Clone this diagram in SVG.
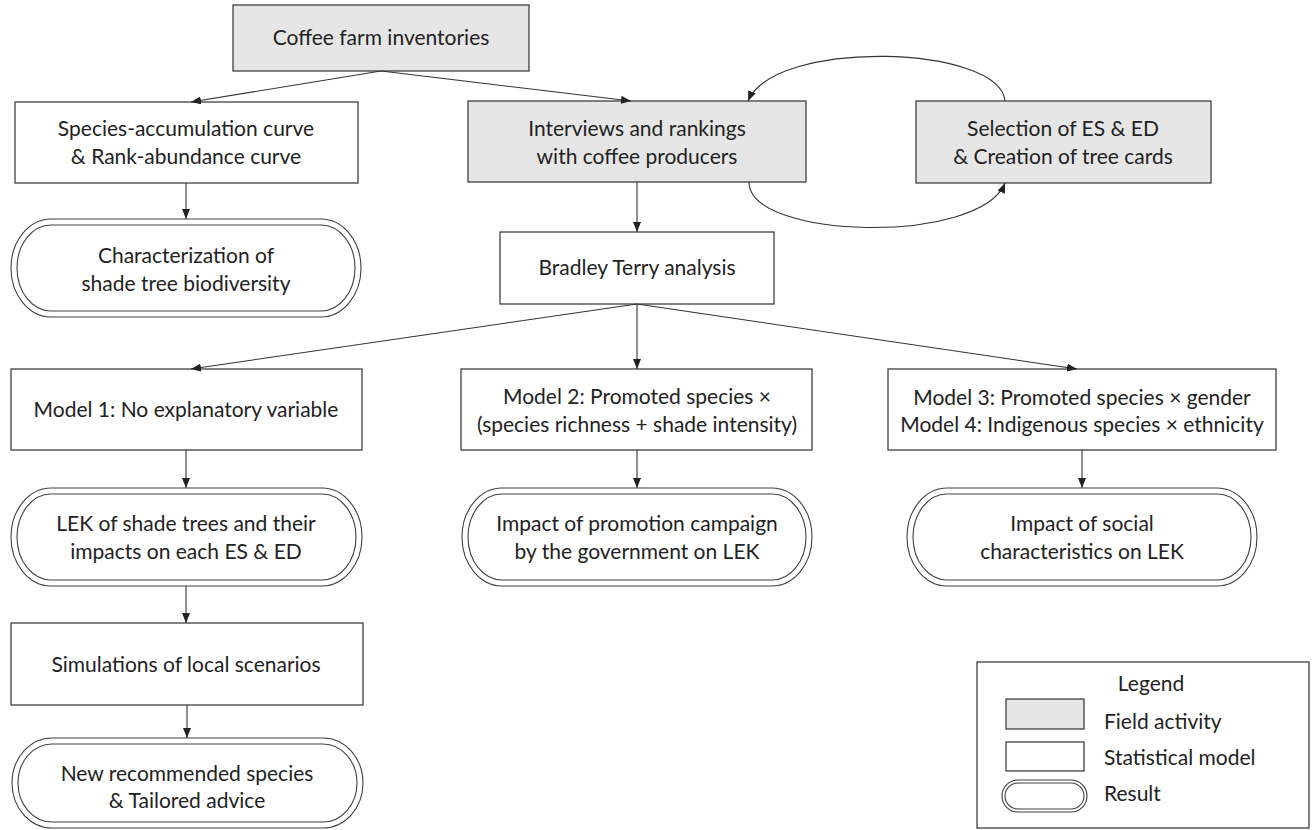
<svg xmlns="http://www.w3.org/2000/svg" width="1312" height="830" viewBox="0 0 1312 830">
<defs>
<marker id="ah" viewBox="0 0 10 8" refX="10" refY="4" markerWidth="10" markerHeight="8" markerUnits="userSpaceOnUse" orient="auto">
<path d="M0,0 L10,4 L0,8 Z" fill="#222"/>
</marker>
</defs>
<style>
.field{fill:#e6e6e6;stroke:#404040;stroke-width:1.3}
.model{fill:#fff;stroke:#404040;stroke-width:1.3}
.res{fill:#fff;stroke:#404040;stroke-width:1.1}
.resi{fill:none;stroke:#404040;stroke-width:1.1}
text{font-family:Lato,"Liberation Sans",sans-serif;font-size:21px;fill:#222;text-anchor:middle}
.lg{text-anchor:start}
.con path,.con line{fill:none;stroke:#333;stroke-width:1.1;marker-end:url(#ah)}
</style>
<rect width="1312" height="830" fill="#fff"/>

<g id="coffee">
<rect class="field" x="233" y="5" width="296" height="66"/>
<text x="381" y="45">Coffee farm inventories</text>
</g>
<g id="species">
<rect class="model" x="15" y="102" width="343" height="81"/>
<text x="186" y="136">Species-accumulation curve</text>
<text x="186" y="164">&amp; Rank-abundance curve</text>
</g>
<g id="interviews">
<rect class="field" x="468" y="101" width="338" height="81"/>
<text x="637" y="136">Interviews and rankings</text>
<text x="637" y="164">with coffee producers</text>
</g>
<g id="selection">
<rect class="field" x="916" y="101" width="295" height="82"/>
<text x="1063" y="136">Selection of ES &amp; ED</text>
<text x="1063" y="164">&amp; Creation of tree cards</text>
</g>
<g id="characterization">
<rect class="res" x="11" y="219" width="350" height="98" rx="40" ry="49"/>
<rect class="resi" x="17" y="225" width="338" height="86" rx="34" ry="43"/>
<text x="186" y="263">Characterization of</text>
<text x="186" y="291">shade tree biodiversity</text>
</g>
<g id="bradley">
<rect class="model" x="500" y="232" width="274" height="72"/>
<text x="637" y="275">Bradley Terry analysis</text>
</g>
<g id="model1">
<rect class="model" x="11" y="369" width="351" height="81"/>
<text x="186" y="417">Model 1: No explanatory variable</text>
</g>
<g id="model2">
<rect class="model" x="461" y="369" width="351" height="81"/>
<text x="637" y="404">Model 2: Promoted species ×</text>
<text x="637" y="432">(species richness + shade intensity)</text>
</g>
<g id="model34">
<rect class="model" x="888" y="369" width="388" height="81"/>
<text x="1082" y="405">Model 3: Promoted species × gender</text>
<text x="1082" y="432">Model 4: Indigenous species × ethnicity</text>
</g>
<g id="lek">
<rect class="res" x="11" y="488" width="351" height="98" rx="40" ry="49"/>
<rect class="resi" x="17" y="494" width="339" height="86" rx="34" ry="43"/>
<text x="186" y="531">LEK of shade trees and their</text>
<text x="186" y="559">impacts on each ES &amp; ED</text>
</g>
<g id="promotion">
<rect class="res" x="462" y="488" width="350" height="98" rx="40" ry="49"/>
<rect class="resi" x="468" y="494" width="338" height="86" rx="34" ry="43"/>
<text x="637" y="531">Impact of promotion campaign</text>
<text x="637" y="559">by the government on LEK</text>
</g>
<g id="social">
<rect class="res" x="907" y="488" width="350" height="98" rx="40" ry="49"/>
<rect class="resi" x="913" y="494" width="338" height="86" rx="34" ry="43"/>
<text x="1082" y="531">Impact of social</text>
<text x="1082" y="559">characteristics on LEK</text>
</g>
<g id="simulations">
<rect class="model" x="11" y="623" width="352" height="82"/>
<text x="186" y="672">Simulations of local scenarios</text>
</g>
<g id="recommended">
<rect class="res" x="12" y="738" width="351" height="90" rx="40" ry="45"/>
<rect class="resi" x="18" y="744" width="339" height="78" rx="34" ry="39"/>
<text x="187" y="781">New recommended species</text>
<text x="187" y="808">&amp; Tailored advice</text>
</g>

<g id="connectors" class="con">
<line x1="381" y1="71" x2="191" y2="102"/>
<line x1="381" y1="71" x2="631" y2="101"/>
<line x1="186" y1="183" x2="186" y2="219"/>
<line x1="637" y1="182" x2="637" y2="232"/>
<path d="M1005,101 C1000,45 775,38 748,101"/>
<path d="M749,182 C749,240 980,245 1005,183"/>
<line x1="637" y1="304" x2="191" y2="369"/>
<line x1="637" y1="304" x2="637" y2="369"/>
<line x1="637" y1="304" x2="1077" y2="369"/>
<line x1="186" y1="450" x2="186" y2="488"/>
<line x1="637" y1="450" x2="637" y2="488"/>
<line x1="1082" y1="450" x2="1082" y2="488"/>
<line x1="186" y1="586" x2="186" y2="623"/>
<line x1="187" y1="705" x2="187" y2="738"/>
</g>

<g id="legend">
<rect class="model" x="977" y="662" width="332" height="166"/>
<text x="1151" y="691">Legend</text>
<rect class="field" x="1006" y="699" width="78" height="30"/>
<text class="lg" x="1104" y="729">Field activity</text>
<rect class="model" x="1006" y="742" width="78" height="29"/>
<text class="lg" x="1104" y="765">Statistical model</text>
<rect class="res" x="1002" y="780" width="85" height="32" rx="16" ry="16"/>
<rect class="resi" x="1005" y="783" width="79" height="26" rx="13" ry="13"/>
<text class="lg" x="1104" y="801">Result</text>
</g>
</svg>
